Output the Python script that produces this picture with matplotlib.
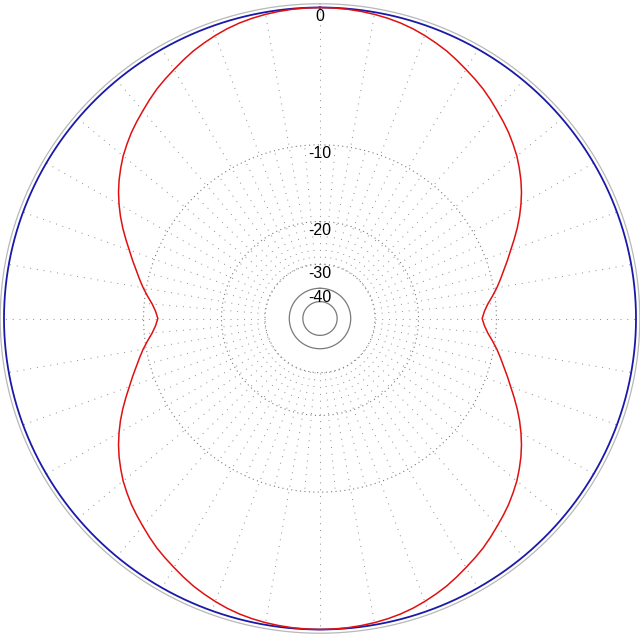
#!/usr/bin/env python3
"""
Antenna radiation pattern (ARRL log scale), red pattern + blue 0 dB reference.
"""

import numpy as np
import matplotlib
matplotlib.use("Agg")
import matplotlib.pyplot as plt

# pattern in dB, one quadrant (0 = top, clockwise), pattern is symmetric
angles_deg = [0, 2.5, 5, 7.5, 10, 12.5, 15, 17.5, 20, 22.5, 25, 27.5, 30, 32.5,
              35, 37.5, 40, 42.5, 45, 47.5, 50, 52.5, 55, 57.5, 60, 62.5, 65,
              67.5, 70, 72.5, 75, 77.5, 80, 82.5, 85, 87.5, 90]
pattern_db = [0.0, -0.01, -0.03, -0.07, -0.12, -0.19, -0.28, -0.4, -0.55, -0.72,
              -0.9, -1.12, -1.35, -1.57, -1.8, -2.07, -2.35, -2.62, -2.9, -3.22,
              -3.55, -3.94, -4.35, -4.8, -5.3, -5.83, -6.4, -7.0, -7.6, -8.15,
              -8.7, -9.2, -9.7, -10.25, -10.8, -11.2, -11.45]

ref_db = 0.0                      # blue reference circle
ring_db = [0, -10, -20, -30, -40]  # labelled rings
ring_labels = ["0", "-10", "-20", "-30", "-40"]
inner_db = -50                     # unlabelled inner circle


def arrl(db):
    """ARRL log scale: 0.89 per 2 dB"""
    return 0.89 ** (-np.asarray(db, dtype=float) / 2.0)


# full 360 deg from the quadrant data by symmetry
a = np.array(angles_deg, dtype=float)
d = np.array(pattern_db, dtype=float)
full_a = np.concatenate([a, 180 - a[::-1][1:], 180 + a[1:], 360 - a[::-1][1:]])
full_d = np.concatenate([d, d[::-1][1:], d[1:], d[::-1][1:]])

fig = plt.figure(figsize=(6.4, 6.4), dpi=100)
ax = fig.add_axes([0, 0, 1, 1])
ax.set_xlim(-320 / 316, 320 / 316)
ax.set_ylim(-321.5 / 311, 318.5 / 311)
ax.axis("off")

t = np.linspace(0, 2 * np.pi, 721)
grid_col = "#7a7a7a"
spoke_col = "#8c8c8c"

# outer frame circle
ax.plot(1.012 * np.sin(t), 1.012 * np.cos(t), color="#b8b8b8", lw=0.9)

# dotted rings
for db in ring_db[1:4]:
    r = arrl(db)
    ax.plot(r * np.sin(t), r * np.cos(t), color=grid_col, lw=0.8, ls=(0, (1, 3)))
# solid inner rings
for db in [ring_db[4], inner_db]:
    r = arrl(db)
    ax.plot(r * np.sin(t), r * np.cos(t), color=grid_col, lw=0.9)

# spokes
r30, r10, r0 = arrl(-30), arrl(-10), arrl(0)
for ang in range(0, 360, 5):
    th = np.radians(ang)
    r_end = r0 if ang % 10 == 0 else r10
    ax.plot([r30 * np.sin(th), r_end * np.sin(th)],
            [r30 * np.cos(th), r_end * np.cos(th)],
            color=spoke_col, lw=0.7, ls=(0, (1, 6)))

# ring labels
for db, lab in zip(ring_db, ring_labels):
    ax.annotate(lab, xy=(0, arrl(db)), xytext=(0, -6.5), textcoords="offset points",
                ha="center", va="center", fontsize=11.5, color="black",
                family="Liberation Sans")

# blue reference
rr = arrl(ref_db)
ax.plot(rr * np.sin(t), rr * np.cos(t), color="#1a1aa8", lw=1.3)

# red pattern
rp = arrl(full_d)
th = np.radians(full_a)
ax.plot(rp * np.sin(th), rp * np.cos(th), color="#e01010", lw=1.1)

plt.savefig("out.png", dpi=100)
plt.close()
